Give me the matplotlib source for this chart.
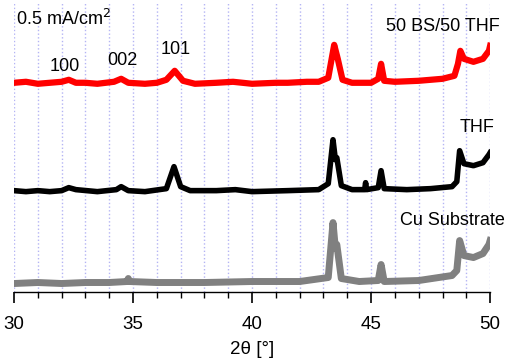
import matplotlib.pyplot as plt
from matplotlib.ticker import MultipleLocator

plt.rcParams['font.family'] = ['Liberation Sans', 'DejaVu Sans']

# 2theta positions / intensities (a.u.)
red_x = [30.0, 30.5, 31.0, 31.5, 32.0, 32.3, 32.6, 33.0, 33.5, 34.2, 34.5, 34.8,
         35.5, 36.0, 36.4, 36.75, 37.1, 37.6, 38.5, 39.2, 40.0, 41.0, 41.5, 42.3,
         42.8, 43.2, 43.45, 43.6, 43.8, 44.2, 45.0, 45.3, 45.42, 45.55, 46.0,
         47.0, 48.0, 48.5, 48.65, 48.75, 48.9, 49.3, 49.7, 49.95, 50.0]
red_y = [210, 211, 209, 210, 211, 213, 210, 210, 209, 211, 214, 210,
         209, 210, 213, 222, 212, 209, 210, 211, 209, 210, 210, 211,
         211, 215, 248, 234, 213, 210, 210, 214, 229, 212, 211,
         212, 214, 217, 229, 242, 234, 231, 234, 242, 247]

black_x = [30.0, 30.5, 31.0, 31.5, 32.0, 32.3, 32.6, 33.5, 34.3, 34.5, 34.8, 35.5,
           36.4, 36.72, 37.0, 37.4, 38.5, 39.3, 40.0, 41.5, 42.8, 43.2, 43.4,
           43.5, 43.56, 43.75, 44.2, 44.73, 44.77, 44.81, 45.3, 45.42, 45.55,
           46.5, 47.5, 48.4, 48.6, 48.72, 48.9, 49.3, 49.7, 49.95, 50.0]
black_y = [102, 101, 102, 101, 102, 105, 103, 101, 103, 106, 102, 101,
           104, 126, 106, 102, 102, 103, 101, 102, 103, 109, 153,
           133, 135, 107, 103, 103, 110, 103, 105, 122, 104,
           103, 104, 106, 111, 142, 129, 127, 130, 138, 140]

gray_x = [30.0, 31.0, 32.0, 33.0, 34.0, 34.75, 34.8, 34.85, 36.0, 38.0, 40.0,
          42.0, 43.2, 43.4, 43.5, 43.56, 43.75, 44.5, 45.3, 45.42, 45.55, 47.0,
          48.4, 48.6, 48.72, 48.9, 49.3, 49.7, 49.95, 50.0]
gray_y = [9, 10, 9, 10, 10, 11, 14, 11, 10, 10, 11,
          11, 15, 70, 44, 48, 14, 11, 12, 28, 11, 12,
          17, 22, 52, 37, 35, 39, 48, 52]

fig = plt.figure(figsize=(5.1, 3.62), dpi=100)
ax = fig.add_axes([0.0275, 0.192, 0.9335, 0.8])

ax.plot(gray_x, gray_y, color='#808080', lw=5.0, solid_joinstyle='round')
ax.plot(black_x, black_y, color='black', lw=4.0, solid_joinstyle='round')
ax.plot(red_x, red_y, color='#ff0000', lw=4.5, solid_joinstyle='round')

ax.set_xlim(30, 50)
ax.set_ylim(0, 290)
ax.xaxis.set_major_locator(MultipleLocator(5))
ax.xaxis.set_minor_locator(MultipleLocator(1))
ax.grid(axis='x', which='both', color='#b4b4f4', linestyle=':', lw=1.0)
ax.set_axisbelow(True)

for s in ['left', 'right', 'top']:
    ax.spines[s].set_visible(False)
ax.spines['bottom'].set_linewidth(1.0)
ax.set_yticks([])
ax.tick_params(axis='x', which='major', length=8, width=1.2, labelsize=13.5, pad=9)
ax.tick_params(axis='x', which='minor', length=4.5, width=1.0)
ax.set_xlabel('2θ [°]', fontsize=13.5, labelpad=6)

fs = 13
ax.text(30.1, 274, '0.5 mA/cm$^2$', fontsize=fs, va='center', ha='left')
ax.text(32.14, 226, '100', fontsize=fs, va='center', ha='center')
ax.text(34.56, 232, '002', fontsize=fs, va='center', ha='center')
ax.text(36.8, 243, '101', fontsize=fs, va='center', ha='center')
ax.text(50.42, 266, '50 BS/50 THF', fontsize=fs, va='center', ha='right')
ax.text(50.2, 165, 'THF', fontsize=fs, va='center', ha='right')
ax.text(50.63, 72, 'Cu Substrate', fontsize=fs, va='center', ha='right')

fig.savefig('out.png', dpi=100)
